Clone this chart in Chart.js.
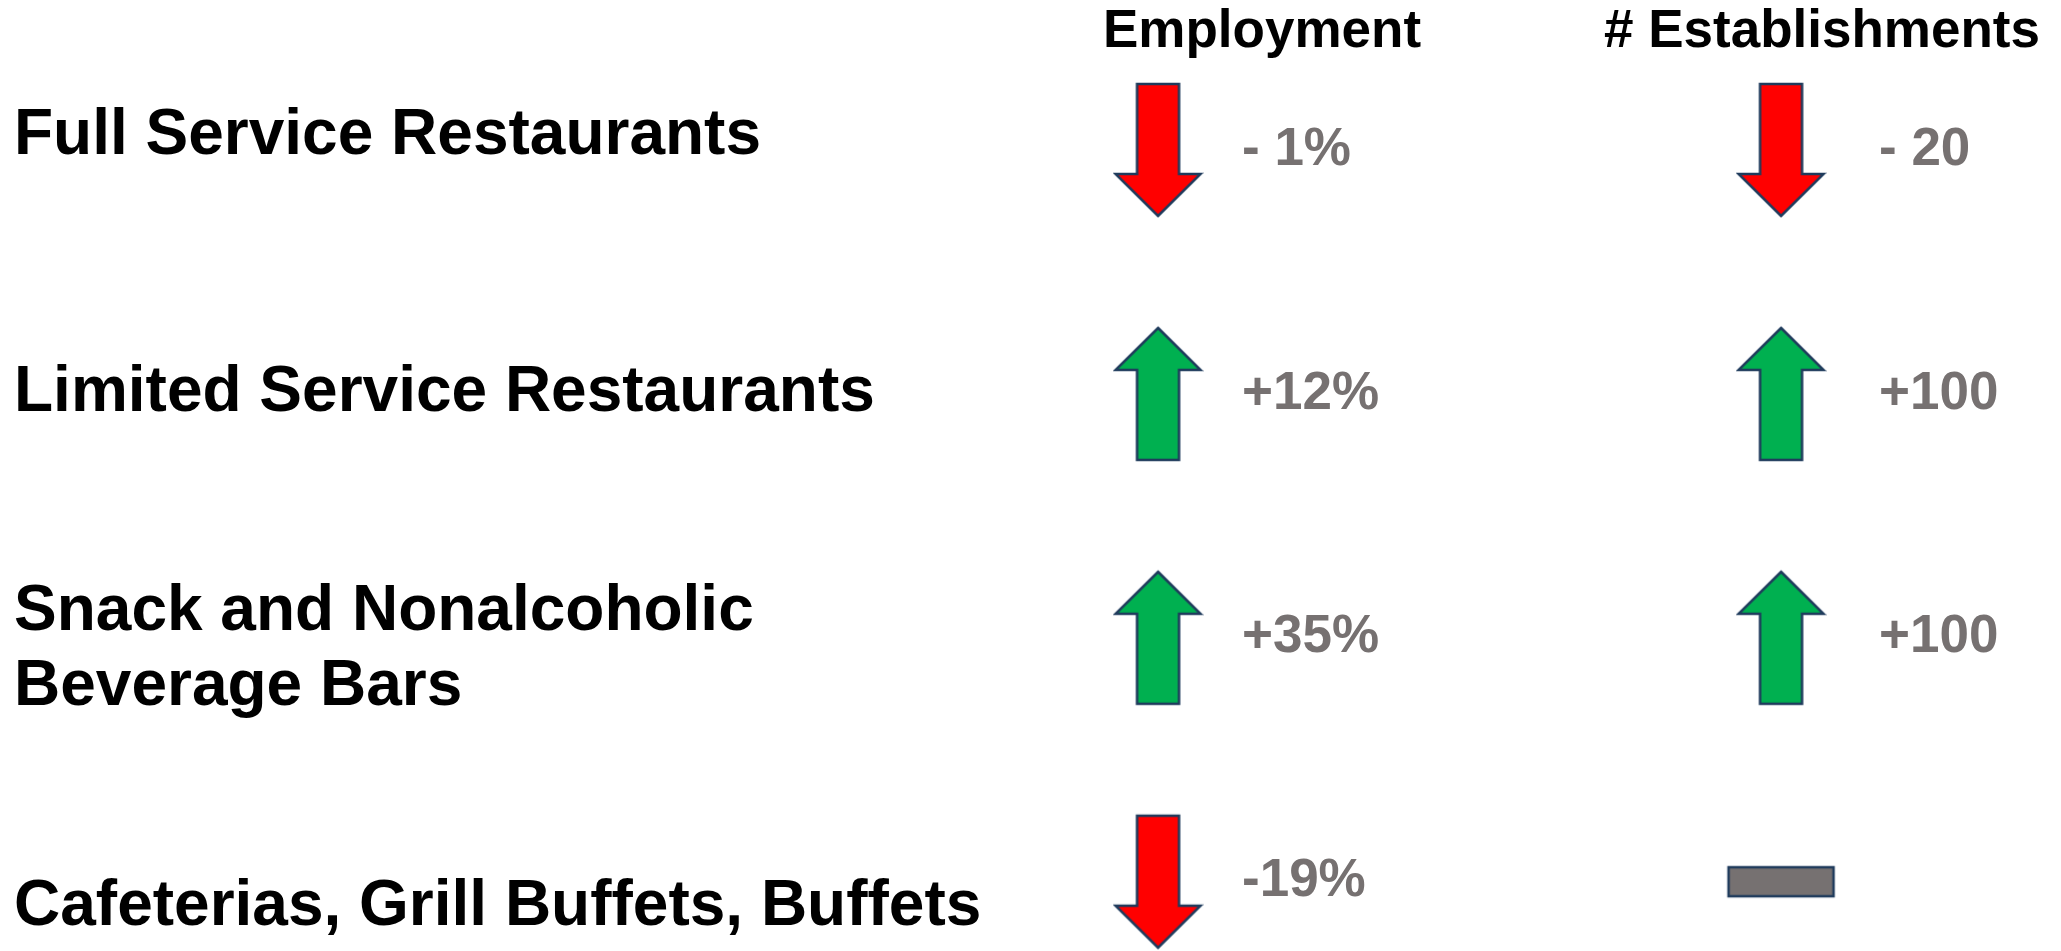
<!DOCTYPE html>
<html>
<head>
<meta charset="utf-8">
<script src="https://cdn.jsdelivr.net/npm/chart.js@4.4.1/dist/chart.umd.min.js"></script>
<style>
  html, body { margin: 0; padding: 0; background: #ffffff; }
  #wrap { width: 2061px; height: 951px; position: relative; }
</style>
</head>
<body>
<div id="wrap"><canvas id="chart"></canvas></div>
<script>
// rows and columns of the slide
const categories = [
  'Full Service Restaurants',
  'Limited Service Restaurants',
  ['Snack and Nonalcoholic', 'Beverage Bars'],
  'Cafeterias, Grill Buffets, Buffets'
];
const columns = ['Employment', '# Establishments'];

// change per row (sign gives the arrow direction, 0 = flat)
const employmentChange = [-1, 12, 35, -19];
const establishmentChange = [-20, 100, 100, 0];

// text printed next to each arrow
const employmentText = ['- 1%', '+12%', '+35%', '-19%'];
const establishmentText = ['- 20', '+100', '+100', ''];

const FONT = '"Liberation Sans", Arial, Helvetica, sans-serif';
const OUTLINE = '#1f3b5c';

function makeArrow(dir, fill) {
  const w = 85, h = 132, shaft = 42, head = 42, m = 3;
  const c = document.createElement('canvas');
  c.width = w + 2 * m;
  c.height = h + 2 * m;
  const g = c.getContext('2d');
  g.translate(m, m);
  const cx = w / 2, s0 = cx - shaft / 2, s1 = cx + shaft / 2;
  g.beginPath();
  if (dir > 0) {
    g.moveTo(cx, 0); g.lineTo(w, head); g.lineTo(s1, head); g.lineTo(s1, h);
    g.lineTo(s0, h); g.lineTo(s0, head); g.lineTo(0, head);
  } else {
    g.moveTo(s0, 0); g.lineTo(s1, 0); g.lineTo(s1, h - head); g.lineTo(w, h - head);
    g.lineTo(cx, h); g.lineTo(0, h - head); g.lineTo(s0, h - head);
  }
  g.closePath();
  g.fillStyle = fill;
  g.fill();
  g.lineWidth = 2.5;
  g.lineJoin = 'miter';
  g.strokeStyle = OUTLINE;
  g.stroke();
  return c;
}

function makeFlat() {
  const w = 105, h = 29, m = 3;
  const c = document.createElement('canvas');
  c.width = w + 2 * m;
  c.height = h + 2 * m;
  const g = c.getContext('2d');
  g.fillStyle = '#767171';
  g.fillRect(m, m, w, h);
  g.lineWidth = 2.5;
  g.strokeStyle = OUTLINE;
  g.strokeRect(m, m, w, h);
  return c;
}

const upArrow = makeArrow(1, '#00b050');
const downArrow = makeArrow(-1, '#ff0000');
const flatBar = makeFlat();

function styleFor(c) {
  const v = c.raw ? c.raw.change : 1;
  if (v > 0) return upArrow;
  if (v < 0) return downArrow;
  return flatBar;
}

// writes the change text right of every mark
const valueLabels = {
  id: 'valueLabels',
  afterDatasetsDraw(chart) {
    const ctx = chart.ctx;
    ctx.save();
    ctx.font = 'bold 53px ' + FONT;
    ctx.fillStyle = '#767171';
    ctx.textAlign = 'left';
    ctx.textBaseline = 'middle';
    chart.data.datasets.forEach((ds, di) => {
      chart.getDatasetMeta(di).data.forEach((pt, i) => {
        ctx.fillText(ds.valueText[i], pt.x + ds.textOffset, pt.y);
      });
    });
    ctx.restore();
  }
};

// no edge padding for label axes, their labels sit inside
function noPad(s) {
  s.paddingTop = 0;
  s.paddingBottom = 0;
  s.paddingLeft = 0;
  s.paddingRight = 0;
}

const ctx = document.getElementById('chart').getContext('2d');
const myChart = new Chart(ctx, {
  type: 'scatter',
  data: {
    datasets: [{
      label: columns[0],
      data: employmentChange.map((v, i) => ({ x: 0, y: i, change: v })),
      valueText: employmentText,
      textOffset: 84
    }, {
      label: columns[1],
      data: establishmentChange.map((v, i) => ({ x: 1, y: i, change: v })),
      valueText: establishmentText,
      textOffset: 98
    }]
  },
  options: {
    responsive: true,
    maintainAspectRatio: false,
    animation: false,
    clip: false,
    layout: { autoPadding: false, padding: { left: 14, right: 0, top: 0, bottom: 0 } },
    elements: {
      point: { pointStyle: styleFor, radius: 10, hoverRadius: 10 }
    },
    plugins: {
      legend: { display: false },
      tooltip: { enabled: false }
    },
    scales: {
      x: { type: 'linear', display: false, min: -0.0931, max: 1.4494 },
      y: { type: 'linear', display: false, reverse: true, min: -0.3731, max: 3.2841 },
      // column headers
      x2: {
        type: 'linear',
        position: 'top',
        min: -0.2893,
        max: 1.4268,
        grid: { display: false, drawTicks: false },
        border: { display: false },
        afterBuildTicks: s => { s.ticks = columns.map((c, i) => ({ value: i })); },
        afterFit: s => { s.height = 59; noPad(s); },
        ticks: {
          autoSkip: false,
          maxRotation: 0,
          padding: 0,
          color: '#000000',
          font: { family: FONT, size: 53, weight: 'bold', lineHeight: 1 },
          callback: v => columns[v]
        }
      },
      // row names
      y2: {
        type: 'linear',
        position: 'left',
        reverse: true,
        min: -0.2995,
        max: 3.1700,
        grid: { display: false, drawTicks: false },
        border: { display: false },
        afterBuildTicks: s => { s.ticks = categories.map((c, i) => ({ value: i })); },
        afterFit: s => { s.width = 1086; noPad(s); },
        ticks: {
          autoSkip: false,
          crossAlign: 'far',
          padding: 0,
          color: '#000000',
          font: { family: FONT, size: 64, weight: 'bold', lineHeight: 1.17 },
          callback: v => categories[v]
        }
      }
    }
  },
  plugins: [valueLabels]
});
</script>
</body>
</html>
